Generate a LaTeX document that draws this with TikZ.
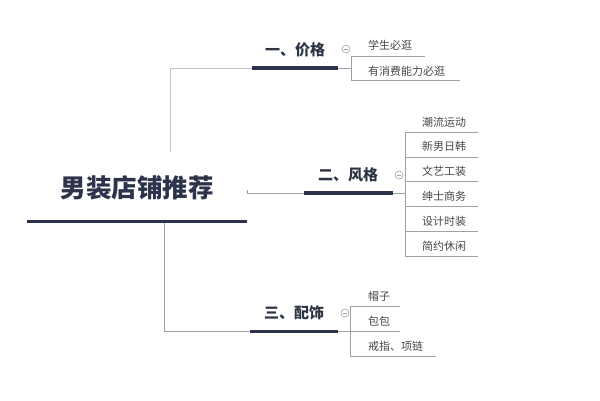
\documentclass[tikz,border=0pt]{standalone}
\usepackage{fontspec}
\setmainfont{Noto Sans CJK SC}
\definecolor{navy}{RGB}{43,52,74}
\definecolor{linegray}{RGB}{160,160,165}
\definecolor{lightgray}{RGB}{195,195,198}
\definecolor{darktext}{RGB}{45,52,68}
\definecolor{leaftext}{RGB}{70,70,75}
\begin{document}
\begin{tikzpicture}[x=1pt,y=-1pt,
  thinline/.style={draw=linegray, line width=0.8pt},
  paleline/.style={draw=lightgray, line width=1pt},
  thickline/.style={draw=navy, line width=3.5pt},
  rootlabel/.style={font=\fontsize{25.5}{25.5}\selectfont\bfseries, text=navy, inner sep=0},
  branchlabel/.style={font=\fontsize{15}{15}\selectfont\bfseries, text=darktext, inner sep=0},
  leaflabel/.style={font=\fontsize{11}{11}\selectfont, text=leaftext, inner sep=0, anchor=west},
  toggle/.style={circle, draw=linegray, line width=0.6pt, minimum size=8pt, inner sep=0,
    path picture={\draw[linegray, line width=0.6pt] ([xshift=-2.2pt]path picture bounding box.center) -- ([xshift=2.2pt]path picture bounding box.center);}}]
\useasboundingbox (0,0) rectangle (600,400);

% root
\node[rootlabel] (root) at (137,188) {男装店铺推荐};
\coordinate (rootL) at (27,221.5);
\coordinate (rootR) at (247,221.5);
\draw[thickline] (rootL) -- (rootR);

% branch 1
\node[branchlabel] (b1) at (295,50) {一、价格};
\coordinate (b1L) at (252,68);
\coordinate (b1R) at (338,68);
\coordinate (b1J) at (351,68);
\coordinate (r1) at (170,152);
\draw[paleline] (r1) |- (b1L);
\draw[thickline] (b1L) -- (b1R);
\draw[thinline] (b1R) -- (b1J);
\node[toggle] (t1) at (346,49) {};
\node[leaflabel] (l11) at (368,45) {学生必逛};
\node[leaflabel] (l12) at (368,71.5) {有消费能力必逛};
\coordinate (u11a) at (351,56); \coordinate (u11b) at (425,56);
\coordinate (u12a) at (351,80); \coordinate (u12b) at (460,80);
\draw[thinline] (u11b) -- (u11a) -- (u12a) -- (u12b);

% branch 2
\node[branchlabel] (b2) at (348,175) {二、风格};
\coordinate (b2L) at (304,193);
\coordinate (b2R) at (393,193);
\coordinate (b2J) at (405,193);
\coordinate (r2) at (247,193);
\coordinate (r2t) at (247,190);
\draw[thinline] (r2t) -- (r2) -- (b2L);
\draw[thickline] (b2L) -- (b2R);
\draw[thinline] (b2R) -- (b2J);
\node[toggle] (t2) at (399,175) {};
\foreach \t/\ty/\uy [count=\i] in {潮流运动/122/132.3, 新男日韩/146.5/157.2, 文艺工装/171.5/181.8, 绅士商务/196.5/206.6, 设计时装/221.5/231.5, 简约休闲/246/256.3}{
  \node[leaflabel] (l2\i) at (422,\ty) {\t};
  \coordinate (u2\i a) at (405,\uy);
  \coordinate (u2\i b) at (478,\uy);
  \draw[thinline] (u2\i a) -- (u2\i b);
}
\draw[thinline] (u21a) -- (u26a);

% branch 3
\node[branchlabel] (b3) at (294,313) {三、配饰};
\coordinate (b3L) at (250,331.5);
\coordinate (b3R) at (338,331.5);
\coordinate (b3J) at (350,331.5);
\coordinate (r3) at (164,223);
\draw[thinline] (r3) |- (b3L);
\draw[thickline] (b3L) -- (b3R);
\draw[thinline] (b3R) -- (b3J);
\node[toggle] (t3) at (345,313) {};
\node[leaflabel] (l31) at (368,296) {帽子};
\node[leaflabel] (l32) at (368,321) {包包};
\node[leaflabel] (l33) at (368,346) {戒指、项链};
\coordinate (u31a) at (350,306.5); \coordinate (u31b) at (400,306.5);
\coordinate (u32a) at (350,331.5); \coordinate (u32b) at (400,331.5);
\coordinate (u33a) at (350,356.5); \coordinate (u33b) at (436,356.5);
\draw[thinline] (u31b) -- (u31a) -- (u33a) -- (u33b);
\draw[thinline] (u32a) -- (u32b);
\end{tikzpicture}
\end{document}
